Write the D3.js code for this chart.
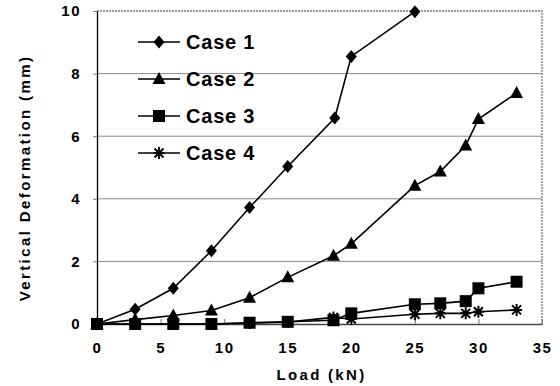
<!DOCTYPE html>
<html>
<head>
<meta charset="utf-8">
<script src="https://cdn.jsdelivr.net/npm/d3@7"></script>
<style>
  body { margin: 0; background: #fff; }
  svg { font-family: "Liberation Sans", Arial, sans-serif; font-weight: bold; }
</style>
</head>
<body>
<div id="chart"></div>
<script>
// Data
const case1Load = [0, 3, 6, 9, 12, 15, 18.7, 20, 25];
const case1Def = [0, 0.47, 1.14, 2.34, 3.72, 5.03, 6.58, 8.55, 9.98];

const case2Load = [0, 3, 6, 9, 12, 15, 18.6, 20, 25, 27, 29, 30, 33];
const case2Def = [0, 0.14, 0.27, 0.43, 0.84, 1.49, 2.18, 2.56, 4.42, 4.87, 5.7, 6.55, 7.38];

const case3Load = [0, 3, 6, 9, 12, 15, 18.6, 20, 25, 27, 29, 30, 33];
const case3Def = [0, 0, 0, 0, 0.04, 0.07, 0.12, 0.34, 0.63, 0.66, 0.73, 1.14, 1.35];

const case4Load = [0, 3, 6, 9, 12, 15, 18.6, 20, 25, 27, 29, 30, 33];
const case4Def = [0, 0, 0, 0, 0.03, 0.06, 0.21, 0.16, 0.31, 0.34, 0.34, 0.39, 0.45];

const seriesNames = ['Case 1', 'Case 2', 'Case 3', 'Case 4'];
const markerTypes = ['diamond', 'triangle', 'square', 'star'];
const xTicks = [0, 5, 10, 15, 20, 25, 30, 35];
const yTicks = [0, 2, 4, 6, 8, 10];

const series = [
    { name: seriesNames[0], marker: markerTypes[0], pts: case1Load.map((x, i) => ({ x, y: case1Def[i] })) },
    { name: seriesNames[1], marker: markerTypes[1], pts: case2Load.map((x, i) => ({ x, y: case2Def[i] })) },
    { name: seriesNames[2], marker: markerTypes[2], pts: case3Load.map((x, i) => ({ x, y: case3Def[i] })) },
    { name: seriesNames[3], marker: markerTypes[3], pts: case4Load.map((x, i) => ({ x, y: case4Def[i] })) }
];

// Dimensions
const W = 560, H = 386;
const margin = { top: 11, right: 18, bottom: 62, left: 97 };
const width = W - margin.left - margin.right;
const height = H - margin.top - margin.bottom;

const svg = d3.select('#chart')
    .append('svg')
    .attr('width', W)
    .attr('height', H);

const g = svg.append('g')
    .attr('transform', `translate(${margin.left},${margin.top})`);

const x = d3.scaleLinear().domain([0, 35]).range([0, width]);
const y = d3.scaleLinear().domain([0, 10]).range([height, 0]);

// Gridlines
g.selectAll('.grid')
    .data(yTicks.filter(t => t > 0 && t < 10))
    .enter()
    .append('line')
    .attr('x1', 0)
    .attr('x2', width)
    .attr('y1', d => y(d))
    .attr('y2', d => y(d))
    .attr('stroke', '#8a8a8a')
    .attr('stroke-width', 1);

// Plot border (top + right)
g.append('path')
    .attr('d', `M0,0H${width}V${height}`)
    .attr('fill', 'none')
    .attr('stroke', '#777')
    .attr('stroke-width', 1.3)
    .attr('stroke-dasharray', '2,1');

// X axis
const xAxis = g.append('g')
    .attr('transform', `translate(0,${height})`)
    .call(d3.axisBottom(x).tickValues(xTicks).tickSizeInner(-5).tickSizeOuter(0).tickPadding(18));
xAxis.select('.domain').attr('stroke', '#444').attr('stroke-width', 1.5);
xAxis.selectAll('.tick line').attr('stroke', '#777');
xAxis.selectAll('.tick text')
    .attr('font-size', 15)
    .attr('font-weight', 'bold')
    .attr('letter-spacing', 1.5)
    .attr('font-family', '"Liberation Sans", Arial, sans-serif')
    .attr('fill', '#000');

// Y axis
const yAxis = g.append('g')
    .call(d3.axisLeft(y).tickValues(yTicks).tickSizeInner(4).tickSizeOuter(0).tickPadding(12));
yAxis.select('.domain').attr('stroke', '#000').attr('stroke-width', 1.3);
yAxis.selectAll('.tick line').attr('stroke', '#777');
yAxis.selectAll('.tick text')
    .attr('font-size', 15)
    .attr('font-weight', 'bold')
    .attr('letter-spacing', 1.5)
    .attr('font-family', '"Liberation Sans", Arial, sans-serif')
    .attr('fill', '#000');

// Axis titles
svg.append('text')
    .attr('x', margin.left + x(17.5) + 2)
    .attr('y', 380)
    .attr('text-anchor', 'middle')
    .attr('font-size', 15)
    .attr('letter-spacing', 2.3)
    .text('Load (kN)');

svg.append('text')
    .attr('transform', `translate(30,${178}) rotate(-90)`)
    .attr('text-anchor', 'middle')
    .attr('font-size', 15)
    .attr('letter-spacing', 2.4)
    .text('Vertical Deformation (mm)');

// Marker shapes
function drawMarker(sel, type) {
    if (type === 'diamond') {
        sel.append('path').attr('d', 'M0,-6.5L5.5,0L0,6.5L-5.5,0Z').attr('fill', '#000');
    } else if (type === 'triangle') {
        sel.append('path').attr('d', 'M0,-7L6.5,5L-6.5,5Z').attr('fill', '#000');
    } else if (type === 'square') {
        sel.append('rect').attr('x', -6).attr('y', -6).attr('width', 12).attr('height', 12).attr('fill', '#000');
    } else {
        sel.append('path')
            .attr('d', 'M-5.5,0H5.5M0,-6V6M-4.5,-4.5L4.5,4.5M-4.5,4.5L4.5,-4.5')
            .attr('stroke', '#000')
            .attr('stroke-width', 2);
    }
}

const line = d3.line().x(d => x(d.x)).y(d => y(d.y));

// Draw series in reverse so Case 1/2 stay on top
series.slice().reverse().forEach(s => {
    g.append('path')
        .datum(s.pts)
        .attr('fill', 'none')
        .attr('stroke', '#000')
        .attr('stroke-width', 1.6)
        .attr('d', line);

    g.selectAll(null)
        .data(s.pts)
        .enter()
        .append('g')
        .attr('transform', d => `translate(${x(d.x)},${y(d.y)})`)
        .each(function () { drawMarker(d3.select(this), s.marker); });
});

// Legend
const legend = svg.append('g').attr('transform', 'translate(138,42)');
series.forEach((s, i) => {
    const row = legend.append('g').attr('transform', `translate(0,${i * 37})`);
    row.append('line')
        .attr('x1', 0).attr('x2', 42)
        .attr('y1', 0).attr('y2', 0)
        .attr('stroke', '#000')
        .attr('stroke-width', 1.6);
    drawMarker(row.append('g').attr('transform', 'translate(21,0)'), s.marker);
    row.append('text')
        .attr('x', 48)
        .attr('y', 7)
        .attr('font-size', 20)
        .attr('letter-spacing', 0.8)
        .text(s.name);
});
</script>
</body>
</html>
